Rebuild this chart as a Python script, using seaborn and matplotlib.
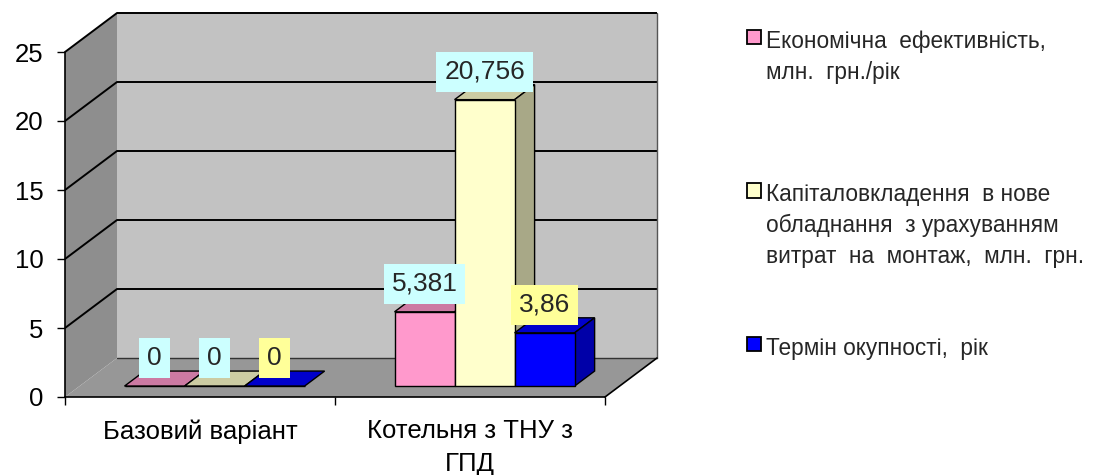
import numpy as np
import pandas as pd
import matplotlib
matplotlib.use("Agg")
import matplotlib.pyplot as plt
import seaborn as sns
from matplotlib.patches import Polygon, Patch
from matplotlib.colors import to_rgb

# ---------------- data ----------------
categories = ["Базовий варіант", "Котельня з ТНУ з\nГПД"]
series = [
    "Економічна ефективність, млн. грн./рік",
    "Капіталовкладення в нове обладнання з урахуванням витрат на монтаж, млн. грн.",
    "Термін окупності, рік",
]
legend_labels = [
    "Економічна  ефективність,\nмлн.  грн./рік\n",
    "Капіталовкладення  в нове\nобладнання  з урахуванням\nвитрат  на  монтаж,  млн.  грн.",
    "Термін окупності,  рік",
]
econ_eff = [0, 5.381]
capex = [0, 20.756]
payback = [0, 3.86]
yticks = [0, 5, 10, 15, 20, 25]

colors = ["#FF99CC", "#FFFFCC", "#0000FF"]
label_bg = ["#CCFFFF", "#CCFFFF", "#FFFF99"]

df = pd.DataFrame({
    "cat": categories * 3,
    "series": [s for s in series for _ in categories],
    "value": econ_eff + capex + payback,
})

# ---------------- figure ----------------
sns.set_style("white")
plt.rcParams["font.family"] = ["Liberation Sans", "DejaVu Sans"]

W, H = 1094, 475
fig = plt.figure(figsize=(W / 100, H / 100), dpi=100)
ax = fig.add_axes([65 / W, (H - 397) / H, 540 / W, 345 / H])
ax.patch.set_visible(False)

sns.barplot(data=df, x="cat", y="value", hue="series", order=categories,
            hue_order=series, palette=colors, width=0.667, saturation=1,
            edgecolor="black", linewidth=1.0, legend=False, errorbar=None, ax=ax)

ax.set_xlim(-0.5, 1.5)
ax.set_ylim(0, 25)

# pseudo 3-D depth (data units for full depth of the floor)
DX = 52 / 270.0
DY = 39 / 13.8
f0, f1 = 0.28, 0.665
d = f1 - f0

x0, x1 = ax.get_xlim()
# walls & floor
ax.add_patch(Polygon([(x0, 0), (x0, 25), (x0 + DX, 25 + DY), (x0 + DX, DY)],
                     closed=True, fc="#8E8E8E", ec="none", zorder=0.5, clip_on=False))
ax.add_patch(Polygon([(x0 + DX, DY), (x1 + DX, DY), (x1 + DX, 25 + DY), (x0 + DX, 25 + DY)],
                     closed=True, fc="#C2C2C2", ec="none", zorder=0.5, clip_on=False))
ax.add_patch(Polygon([(x0, 0), (x1, 0), (x1 + DX, DY), (x0 + DX, DY)],
                     closed=True, fc="#979797", ec="none", zorder=0.6, clip_on=False))
for v in yticks[1:]:
    ax.plot([x0, x0 + DX, x1 + DX], [v, v + DY, v + DY], color="black", lw=1.4,
            zorder=0.8, clip_on=False, solid_capstyle="butt")
ax.plot([x0 + DX, x1 + DX], [DY, DY], color="#333333", lw=1.0, zorder=0.8, clip_on=False)
ax.plot([x1 + DX, x1 + DX], [DY, 25 + DY], color="#555555", lw=1.0, zorder=0.8, clip_on=False)
ax.plot([x1, x1 + DX], [0, DY], color="black", lw=1.2, zorder=0.8, clip_on=False)

def shade(c, k):
    r, g, b = to_rgb(c)
    return (r * k, g * k, b * k)

for i, cont in enumerate(ax.containers):
    for p in cont.patches:
        bx = p.get_x() + f0 * DX
        bw = p.get_width()
        h = p.get_height()
        by = f0 * DY
        p.set_x(bx)
        p.set_y(by)
        p.set_zorder(3 + i * 0.1)
        p.set_clip_on(False)
        top = by + h
        ax.add_patch(Polygon([(bx, top), (bx + bw, top), (bx + bw + d * DX, top + d * DY),
                              (bx + d * DX, top + d * DY)], closed=True,
                             fc=shade(colors[i], 0.8), ec="black", lw=1.0,
                             zorder=3 + i * 0.1 - 0.05, clip_on=False))
        if h > 0:
            ax.add_patch(Polygon([(bx + bw, by), (bx + bw + d * DX, by + d * DY),
                                  (bx + bw + d * DX, top + d * DY), (bx + bw, top)], closed=True,
                                 fc=shade(colors[i], 0.66), ec="black", lw=1.0,
                                 zorder=3 + i * 0.1 - 0.05, clip_on=False))
    vals = [p.get_height() for p in cont.patches]
    labs = [f"{v:g}".replace(".", ",") for v in vals]
    anns = ax.bar_label(cont, labels=labs, padding=11.5, fontsize=19)
    for a in anns:
        a.set_bbox(dict(boxstyle="square,pad=0.3", fc=label_bg[i], ec="none"))
        a.set_zorder(6)
        a.set_clip_on(False)

# axes styling
for s in ["top", "right"]:
    ax.spines[s].set_visible(False)
for s in ["left", "bottom"]:
    ax.spines[s].set_color("black")
    ax.spines[s].set_linewidth(1.2)
    ax.spines[s].set_zorder(2)

ax.set_yticks(yticks)
ax.set_yticklabels([str(t) for t in yticks])
ax.tick_params(axis="y", length=5.5, width=1, pad=10, labelsize=18.5, left=True,
               color="black", labelcolor="black")
ax.set_xticks([0, 1])
ax.set_xticklabels(categories, linespacing=1.45)
ax.tick_params(axis="x", which="major", length=0, pad=16, labelsize=18.5, labelcolor="black")
ax.set_xticks([-0.5, 0.5, 1.5], minor=True)
ax.tick_params(axis="x", which="minor", length=6, width=1, color="black", bottom=True)
ax.set_xlabel("")
ax.set_ylabel("")

# legend
handles = [Patch(facecolor=c, edgecolor="black", linewidth=1.3) for c in colors]
leg = fig.legend(handles, legend_labels, loc="upper left",
                 bbox_to_anchor=(747 / W, 1 - 30 / H), frameon=False, fontsize=16.3,
                 handlelength=0.6, handleheight=0.6, handletextpad=0.25,
                 labelspacing=3.05, borderpad=0, borderaxespad=0)
for t in leg.get_texts():
    t.set_linespacing(1.42)
for col in leg._legend_handle_box.get_children():
    for hp in col.get_children():
        hp.align = "top"

fig.savefig("out.png", dpi=100)
